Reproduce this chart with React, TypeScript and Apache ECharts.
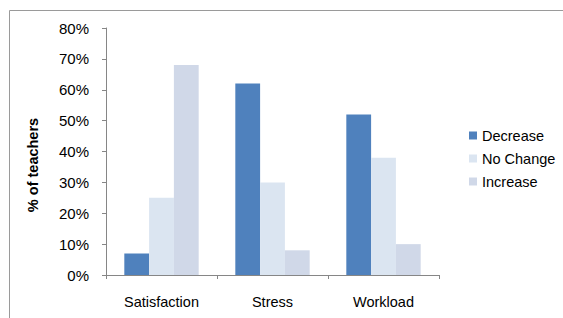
import React, { useEffect, useRef } from "react";
import * as echarts from "echarts";

const categories = ["Satisfaction", "Stress", "Workload"];
const seriesNames = ["Decrease", "No Change", "Increase"];
const decrease = [7, 62, 52];
const noChange = [25, 30, 38];
const increase = [68, 8, 10];
const colors = ["#4F81BD", "#DBE5F1", "#D0D8E8"];
const yAxisTitle = "% of teachers";
const yTicksMax = 80;
const yTickStep = 10;

export default function App() {
  const ref = useRef<HTMLDivElement>(null);
  useEffect(() => {
    if (!ref.current) return;
    const chart = echarts.init(ref.current, undefined, { renderer: "svg" });
    const font = "'Liberation Sans', Arial, sans-serif";
    const data = [decrease, noChange, increase];
    chart.setOption({
      animation: false,
      backgroundColor: "#ffffff",
      textStyle: { fontFamily: font },
      graphic: [
        {
          type: "rect",
          shape: { x: 9.5, y: 10.5, width: 600, height: 400 },
          style: { fill: "none", stroke: "#9a9a9a", lineWidth: 1 },
          silent: true,
        },
        {
          type: "text",
          x: 33,
          y: 165,
          rotation: Math.PI / 2,
          style: {
            text: yAxisTitle,
            fontFamily: font,
            fontSize: 14.5,
            fontWeight: "bold",
            fill: "#000",
            align: "center",
            verticalAlign: "middle",
          },
          silent: true,
        },
      ],
      grid: { left: 106, top: 28, right: 124, bottom: 43 },
      legend: {
        orient: "vertical",
        left: 469,
        top: 128,
        padding: 0,
        itemWidth: 8,
        itemHeight: 8,
        itemGap: 8,
        icon: "rect",
        data: seriesNames,
        textStyle: { fontFamily: font, fontSize: 14.5, color: "#000", lineHeight: 15 },
      },
      xAxis: {
        type: "category",
        data: categories,
        axisLine: { lineStyle: { color: "#868686" } },
        axisTick: { show: true, length: 4, lineStyle: { color: "#868686" } },
        axisLabel: { fontFamily: font, fontSize: 14.5, color: "#000", margin: 19 },
      },
      yAxis: {
        type: "value",
        min: 0,
        max: yTicksMax,
        interval: yTickStep,
        axisLine: { show: true, lineStyle: { color: "#868686" } },
        axisTick: { show: true, length: 4, lineStyle: { color: "#868686" } },
        splitLine: { show: false },
        axisLabel: { fontFamily: font, fontSize: 15, color: "#000", margin: 17, formatter: "{value}%" },
      },
      series: seriesNames.map((name, i) => ({
        name,
        type: "bar",
        data: data[i],
        barGap: "0%",
        barCategoryGap: "33%",
        itemStyle: { color: colors[i] },
      })),
    });
    return () => chart.dispose();
  }, []);
  return (
    <div
      ref={ref}
      style={{ position: "fixed", left: 0, top: 0, width: 563, height: 318 }}
    />
  );
}
